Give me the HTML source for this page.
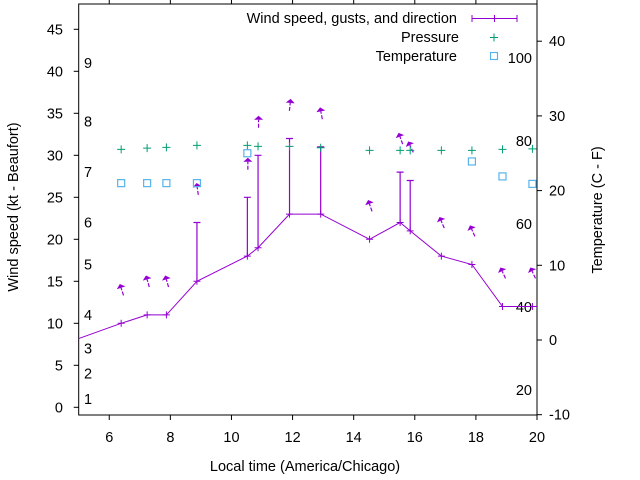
<!DOCTYPE html>
<html><head><meta charset="utf-8"><style>
html,body{margin:0;padding:0;background:#fff}
svg{display:block;font-family:"Liberation Sans",sans-serif;font-size:14.5px}
</style></head><body>
<svg id="chart" width="640" height="480" viewBox="0 0 640 480" xmlns="http://www.w3.org/2000/svg"></svg>
<script>
const times=[4.4,6.39,7.24,7.87,8.87,10.52,10.87,11.9,12.92,14.52,15.52,15.85,16.87,17.87,18.87,19.85,20.5];
const windKt=[7.4,10,11,11,15,18,19,23,23,20,22,21,18,17,12,12,12];
const gustKt=[null,null,null,null,22,25,30,32,31,null,28,27,null,null,null,null,null];
const windDir=[null,162,164,164,172,180,180,186,169,161,160,155,157,156,155,155,null];
const presTimes=[6.39,7.24,7.87,8.87,10.52,10.87,11.9,12.92,14.52,15.52,15.85,16.87,17.87,18.87,19.85];
const presVal=[30.7,30.86,30.94,31.18,31.18,31.06,31.06,30.9,30.58,30.58,30.58,30.58,30.58,30.7,30.77];
const tempTimes=[6.39,7.24,7.87,8.87,10.52,17.87,18.87,19.85];
const tempC=[21.0,21.0,21.0,21.0,25.0,23.9,21.9,20.9];
const xTicks=[6,8,10,12,14,16,18,20];
const yTicks=[0,5,10,15,20,25,30,35,40,45];
const y2Ticks=[-10,0,10,20,30,40];
const fTicks=[20,40,60,80,100];
const bftLabels=[1,2,3,4,5,6,7,8,9];
const bftKt=[1,4,7,11,17,22,28,34,41];

const L=78.7,R=537,T=4,B=415;
const X=t=>L+(t-5)*(R-L)/15;
const Y=k=>407.3-k*8.4;
const Y2=c=>340-c*7.47;
const svg=document.getElementById('chart');
const NS='http://www.w3.org/2000/svg';
function mk(tag,attrs,parent){const e=document.createElementNS(NS,tag);for(const k in attrs)e.setAttribute(k,attrs[k]);(parent||svg).appendChild(e);return e;}
function txt(s,x,y,anchor,parent){const e=mk('text',{x:x,y:y,'text-anchor':anchor||'middle',fill:'#000'},parent);e.textContent=s;return e;}
const P='#9400d3',G='#009e73',Bl='#56b4e9';
function plus(x,y,c,s,g){mk('path',{d:`M${x-s} ${y}H${x+s}M${x} ${y-s}V${y+s}`,stroke:c,'stroke-width':1,fill:'none'},g);}

mk('defs',{}).innerHTML='<clipPath id="clip"><rect x="'+L+'" y="'+T+'" width="'+(R-L)+'" height="'+(B-T)+'"/></clipPath>';

// axes
const ax=mk('g',{});


mk('rect',{x:L,y:T,width:R-L,height:B-T,fill:'none',stroke:'#000','stroke-width':1},ax);
xTicks.forEach(t=>{const x=X(t);mk('path',{d:`M${x} ${B}V${B+5}M${x} ${T}V${T-5}`,stroke:'#000'},ax);
 const e=txt(String(t),x,442,'middle',ax);});
yTicks.forEach(v=>{const y=Y(v);mk('path',{d:`M${L} ${y}H${L-5}`,stroke:'#000'},ax);
 const e=txt(String(v),63,y+5,'end',ax);});
y2Ticks.forEach(v=>{const y=Y2(v);mk('path',{d:`M${R} ${y}H${R+5}`,stroke:'#000'},ax);
 const e=txt(String(v),549,y+5,'start',ax);});
fTicks.forEach(f=>{const c=(f-32)*5/9;const e=txt(String(f),532,Y2(c)+5,'end',ax);});
bftLabels.forEach((b,i)=>{const e=txt(String(b),84,Y(bftKt[i])+5,'start',ax);});

let e=txt('Local time (America/Chicago)',305,471,'middle');

e=txt('Wind speed (kt - Beaufort)',0,0,'middle');e.setAttribute('transform','translate(18,207) rotate(-90)');

e=txt('Temperature (C - F)',0,0,'middle');e.setAttribute('transform','translate(602,210) rotate(-90)');


// series
const gp=mk('g',{'clip-path':'url(#clip)'});


const wl=mk('polyline',{points:times.map((t,i)=>X(t)+','+Y(windKt[i])).join(' '),fill:'none',stroke:P,'stroke-width':1},gp);


times.forEach((t,i)=>{
 const x=X(t),y=Y(windKt[i]);
 plus(x,y,P,3.5,gp);
 if(gustKt[i]!=null){const gy=Y(gustKt[i]);
  const b=mk('path',{d:`M${x} ${y}V${gy}M${x-3.5} ${gy}H${x+3.5}`,stroke:P,'stroke-width':1.2,fill:'none'},gp);
  }
 if(windDir[i]!=null){
  const top=Math.max(windKt[i],gustKt[i]||0)+4;
  const cx=x+0.5,cy=Y(top);
  const to=(windDir[i]+180)*Math.PI/180;
  const dx=Math.sin(to),dy=-Math.cos(to);
  const hl=6;
  const hx=cx+dx*hl,hy=cy+dy*hl,tx=cx-dx*hl,ty=cy-dy*hl;
  const px=-dy,py=dx;
  const bx=hx-dx*4,by=hy-dy*4;
  const a=mk('g',{},gp);
  
  
  mk('line',{x1:tx,y1:ty,x2:bx,y2:by,stroke:P,'stroke-width':1.2,'stroke-dasharray':'4,1.5'},a);
  mk('polygon',{points:`${hx},${hy} ${bx+px*4.5},${by+py*4.5} ${bx-px*4.5},${by-py*4.5}`,fill:P},a);
 }
});
presTimes.forEach((t,i)=>{const g=mk('g',{},gp);plus(X(t),Y(presVal[i]),G,4,g);});
tempTimes.forEach((t,i)=>{const r=mk('rect',{x:X(t)-3.5,y:Y2(tempC[i])-3.5,width:7,height:7,fill:'none',stroke:Bl,'stroke-width':1.2},gp);
 });

// legend
const lg=mk('g',{});


txt('Wind speed, gusts, and direction',457,23,'end',lg);
mk('path',{d:'M472 18.5H517M472 15V22M517 15V22M494.5 15V22',stroke:P,'stroke-width':1,fill:'none'},lg);
txt('Pressure',459,42,'end',lg);
plus(494,37.5,G,4,lg);
txt('Temperature',457,61,'end',lg);
mk('rect',{x:490.5,y:52.5,width:7,height:7,fill:'none',stroke:Bl,'stroke-width':1.2},lg);
</script>
</body></html>
